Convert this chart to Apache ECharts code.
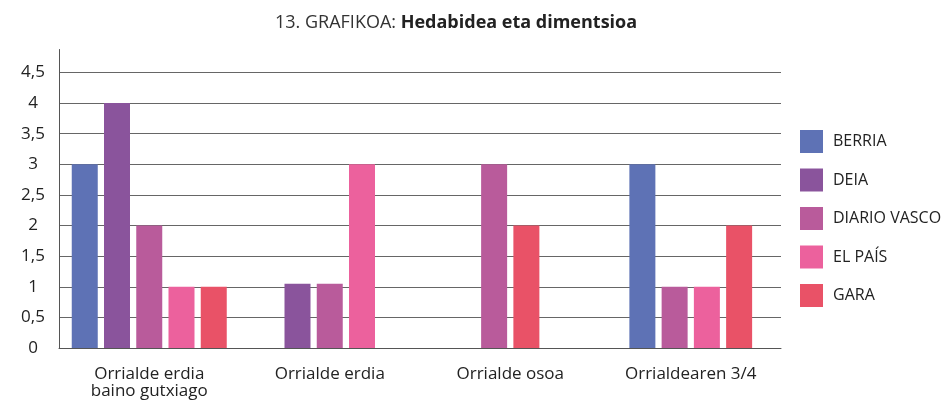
<!DOCTYPE html>
<html>
<head>
<meta charset="utf-8">
<script src="https://cdn.jsdelivr.net/npm/echarts@6/dist/echarts.min.js"></script>
<style>
  html, body { margin: 0; padding: 0; background: #fff; }
  #chart { width: 952px; height: 404px; }
</style>
</head>
<body>
<div id="chart"></div>
<script>
// kategoriak (x ardatza)
const categories = ['Orrialde erdia\nbaino gutxiago', 'Orrialde erdia', 'Orrialde osoa', 'Orrialdearen 3/4'];
// hedabideak
const mediaNames = ['BERRIA', 'DEIA', 'DIARIO VASCO', 'EL PAÍS', 'GARA'];
const mediaColors = ['#5e72b5', '#8a549c', '#b95b9b', '#ec619d', '#e95267'];
// balioak, kategoria bakoitzeko
const berria = [3, 0, 0, 3];
const deia = [4, 1.05, 0, 0];
const diarioVasco = [2, 1.05, 3, 1];
const elPais = [1, 3, 0, 1];
const gara = [1, 0, 2, 2];
const allValues = [berria, deia, diarioVasco, elPais, gara];

const FONT = '"Open Sans", "Noto Sans", sans-serif';
const barWidth = 26;
const barPitch = 32.25;

var chartDom = document.getElementById('chart');
var myChart = echarts.init(chartDom);

// zero balioko barrak saltatu eta gainerakoak kategoriaren erdian jarri
const renderBar = (params, api) => {
    const cat = api.value(0);
    const val = api.value(1);
    if (!val) return;
    const present = [];
    allValues.forEach((arr, i) => { if (arr[cat] > 0) present.push(i); });
    const rank = present.indexOf(params.seriesIndex);
    const offset = (rank - (present.length - 1) / 2) * barPitch;
    const top = api.coord([cat, val]);
    const base = api.coord([cat, 0]);
    return {
        type: 'rect',
        shape: {
            x: top[0] + offset - barWidth / 2,
            y: top[1],
            width: barWidth,
            height: base[1] - top[1]
        },
        style: { fill: api.visual('color') }
    };
};

var option = {
    animation: false,
    title: {
        left: 270,
        top: 9,
        text: '{a|13. GRAFIKOA: }{b|Hedabidea eta dimentsioa}',
        textStyle: {
            rich: {
                a: { fontFamily: FONT, fontSize: 18, color: '#333', fontWeight: 'normal' },
                b: { fontFamily: FONT, fontSize: 18, color: '#222', fontWeight: 'bold' }
            }
        }
    },
    legend: {
        orient: 'vertical',
        left: 795,
        top: 125,
        icon: 'rect',
        itemWidth: 23,
        itemHeight: 23,
        itemGap: 15.5,
        data: mediaNames,
        textStyle: { fontFamily: FONT, fontSize: 16, color: '#222', padding: [0, 0, 0, 5] }
    },
    grid: {
        left: 59,
        right: 171,
        top: 49.5,
        height: 298.5,
        containLabel: false
    },
    xAxis: {
        type: 'category',
        data: categories,
        axisLine: { show: true, lineStyle: { color: '#555', width: 1 } },
        axisTick: { show: false },
        axisLabel: {
            fontFamily: FONT,
            fontSize: 17,
            color: '#222',
            lineHeight: 17,
            margin: 18
        }
    },
    yAxis: {
        type: 'value',
        min: 0,
        max: 4.875,
        interval: 0.5,
        axisLine: { show: true, lineStyle: { color: '#555', width: 1 } },
        axisTick: { show: false },
        splitLine: {
            show: true,
            showMaxLine: false,
            lineStyle: { color: '#666', width: 1 }
        },
        axisLabel: {
            showMaxLabel: false,
            fontFamily: FONT,
            fontSize: 17,
            color: '#222',
            align: 'center',
            margin: 26,
            formatter: (v) => {
                if (Math.abs(v * 2 - Math.round(v * 2)) > 1e-6) return '';
                return String(v).replace('.', ',');
            }
        }
    },
    series: mediaNames.map((name, i) => ({
        name: name,
        type: 'custom',
        renderItem: renderBar,
        itemStyle: { color: mediaColors[i] },
        encode: { x: 0, y: 1 },
        data: allValues[i].map((v, c) => [c, v])
    }))
};

option && myChart.setOption(option);
</script>
</body>
</html>
